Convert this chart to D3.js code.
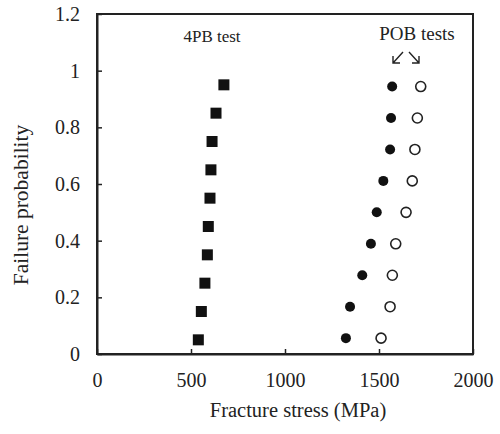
<!DOCTYPE html>
<html>
<head>
<meta charset="utf-8">
<script src="https://cdn.jsdelivr.net/npm/d3@7/dist/d3.min.js"></script>
<style>
  html, body { margin: 0; padding: 0; background: #fff; }
  svg { display: block; }
  text { font-family: "Liberation Serif", "Times New Roman", serif; fill: #222; }
</style>
</head>
<body>
<svg id="chart" width="500" height="434"></svg>
<script>
// Failure probability (median ranks) of each specimen set
const probFourPB = [0.05, 0.15, 0.25, 0.35, 0.45, 0.55, 0.65, 0.75, 0.85, 0.95];
const stressFourPB = [539, 555, 574, 587, 592, 601, 606, 612, 633, 675];

const probPOB = [0.056, 0.167, 0.278, 0.389, 0.5, 0.611, 0.722, 0.833, 0.944];
const stressPOBFilled = [1324, 1346, 1411, 1457, 1488, 1523, 1559, 1564, 1570];
const stressPOBOpen = [1511, 1559, 1571, 1589, 1644, 1677, 1691, 1704, 1722];

const xTicks = [0, 500, 1000, 1500, 2000];
const yTicks = [0, 0.2, 0.4, 0.6, 0.8, 1, 1.2];

const svg = d3.select("#chart");
const plotLeft = 97, plotRight = 473, plotTop = 14, plotBottom = 354;

const x = d3.scaleLinear().domain([0, 2000]).range([plotLeft, plotRight]);
const y = d3.scaleLinear().domain([0, 1.2]).range([plotBottom, plotTop]);

const ink = "#222";

// frame
svg.append("rect")
  .attr("x", plotLeft).attr("y", plotTop)
  .attr("width", plotRight - plotLeft).attr("height", plotBottom - plotTop)
  .attr("fill", "none").attr("stroke", ink).attr("stroke-width", 2);

// axes with inward ticks
const xAxis = svg.append("g")
  .attr("transform", `translate(0,${plotBottom})`)
  .call(d3.axisBottom(x).tickValues(xTicks).tickSizeInner(-5).tickSizeOuter(0).tickPadding(19).tickFormat(d => String(d)));
const yAxis = svg.append("g")
  .attr("transform", `translate(${plotLeft},0)`)
  .call(d3.axisLeft(y).tickValues(yTicks).tickSizeInner(-5).tickSizeOuter(0).tickPadding(17).tickFormat(d => String(d)));

[xAxis, yAxis].forEach(g => {
  g.select(".domain").attr("stroke", ink).attr("stroke-width", 2);
  g.selectAll(".tick line").attr("stroke", ink).attr("stroke-width", 1.5);
  g.selectAll(".tick text")
    .attr("font-family", "Liberation Serif, Times New Roman, serif")
    .attr("font-size", 20).attr("fill", ink);
});

// axis titles
svg.append("text")
  .attr("x", 298).attr("y", 417)
  .attr("text-anchor", "middle").attr("font-size", 20.5)
  .text("Fracture stress (MPa)");
svg.append("text")
  .attr("transform", "translate(28,205) rotate(-90)")
  .attr("text-anchor", "middle").attr("font-size", 21.5)
  .text("Failure probability");

// 4PB test: filled squares
const sq = 11;
svg.append("g").selectAll("rect")
  .data(d3.zip(stressFourPB, probFourPB))
  .join("rect")
  .attr("x", d => x(d[0]) - sq / 2)
  .attr("y", d => y(d[1]) - sq / 2)
  .attr("width", sq).attr("height", sq)
  .attr("fill", "#111");

// POB tests: filled and open circles
svg.append("g").selectAll("circle")
  .data(d3.zip(stressPOBFilled, probPOB))
  .join("circle")
  .attr("cx", d => x(d[0])).attr("cy", d => y(d[1]))
  .attr("r", 5).attr("fill", "#111");

svg.append("g").selectAll("circle")
  .data(d3.zip(stressPOBOpen, probPOB))
  .join("circle")
  .attr("cx", d => x(d[0])).attr("cy", d => y(d[1]))
  .attr("r", 5).attr("fill", "#fff")
  .attr("stroke", "#222").attr("stroke-width", 1.6);

// annotations
svg.append("text")
  .attr("x", 212).attr("y", 42)
  .attr("text-anchor", "middle").attr("font-size", 17)
  .text("4PB test");
svg.append("text")
  .attr("x", 417).attr("y", 40)
  .attr("text-anchor", "middle").attr("font-size", 19)
  .text("POB tests");

// arrows pointing down to each POB series
const arrows = svg.append("g").attr("stroke", ink).attr("stroke-width", 1.4).attr("fill", "none");
arrows.append("path").attr("d", "M403,52 L393,63 M393,56 L393,63 L400,63");
arrows.append("path").attr("d", "M409,52 L419,63 M419,56 L419,63 L412,63");
</script>
</body>
</html>
